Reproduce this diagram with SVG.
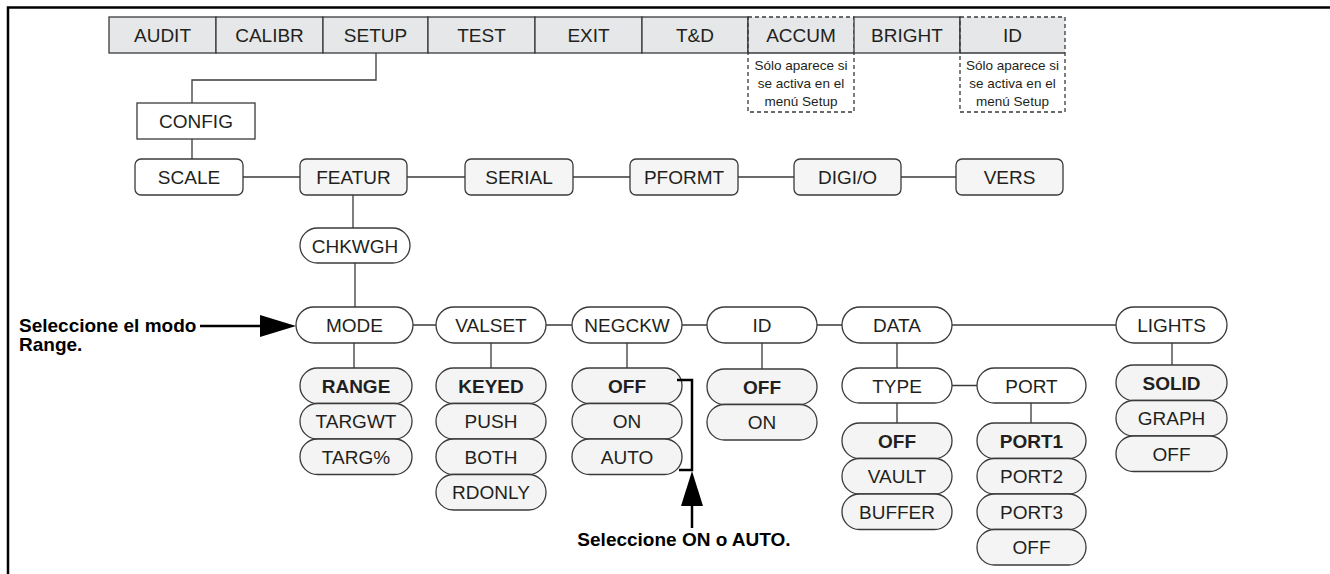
<svg xmlns="http://www.w3.org/2000/svg" width="1330" height="574" viewBox="0 0 1330 574">
<style>
text{font-family:"Liberation Sans",Arial,Helvetica,sans-serif;fill:#231f20;text-anchor:middle}
.t{font-size:19px}
.b{font-weight:bold}
.s{font-size:13.5px}
.ann{font-size:19px;font-weight:bold;fill:#000}
.bar{fill:#e6e7e8;stroke:#3a3a3a;stroke-width:1.3}
.barf{fill:#e6e7e8;stroke:none}
.dash{fill:none;stroke:#3a3a3a;stroke-width:1.3;stroke-dasharray:4 3}
.box{fill:#fff;stroke:#3a3a3a;stroke-width:1.3}
.rb{fill:#f5f5f5;stroke:#3a3a3a;stroke-width:1.3}
.pill{fill:#fff;stroke:#3a3a3a;stroke-width:1.3}
.opt{fill:#f4f4f4;stroke:#3a3a3a;stroke-width:1.3}
.ln{fill:none;stroke:#3a3a3a;stroke-width:1.3}
.thk{fill:none;stroke:#000;stroke-width:2.5}
</style>
<path d="M8,574 V7.5 H1330" fill="none" stroke="#000" stroke-width="2.5"/>

<g id="menu-bar">
<g id="n-audit"><rect class="bar" x="109" y="17" width="107" height="36"/><text class="t" x="162.5" y="42">AUDIT</text></g>
<g id="n-calibr"><rect class="bar" x="216" y="17" width="107" height="36"/><text class="t" x="269.5" y="42">CALIBR</text></g>
<g id="n-setup"><rect class="bar" x="323" y="17" width="105" height="36"/><text class="t" x="375.5" y="42">SETUP</text></g>
<g id="n-test"><rect class="bar" x="428" y="17" width="107" height="36"/><text class="t" x="481.5" y="42">TEST</text></g>
<g id="n-exit"><rect class="bar" x="535" y="17" width="107" height="36"/><text class="t" x="588.5" y="42">EXIT</text></g>
<g id="n-td"><rect class="bar" x="642" y="17" width="106" height="36"/><text class="t" x="695" y="42">T&amp;D</text></g>
<g id="n-accum"><rect class="barf" x="748" y="17" width="106" height="36"/><rect class="dash" x="748" y="17" width="106" height="95"/><line class="ln" x1="748" y1="17" x2="748" y2="53"/><line class="ln" x1="748" y1="53" x2="854" y2="53"/><text class="t" x="801" y="42">ACCUM</text>
<text class="s" x="801" y="70">Sólo aparece si</text><text class="s" x="801" y="88">se activa en el</text><text class="s" x="801" y="106">menú Setup</text></g>
<g id="n-bright"><rect class="bar" x="854" y="17" width="106" height="36"/><text class="t" x="907" y="42">BRIGHT</text></g>
<g id="n-id"><rect class="barf" x="960" y="17" width="105" height="36"/><rect class="dash" x="960" y="17" width="105" height="95"/><line class="ln" x1="960" y1="17" x2="960" y2="53"/><line class="ln" x1="960" y1="53" x2="1065" y2="53"/><text class="t" x="1012.5" y="42">ID</text>
<text class="s" x="1012.5" y="70">Sólo aparece si</text><text class="s" x="1012.5" y="88">se activa en el</text><text class="s" x="1012.5" y="106">menú Setup</text></g>
</g>

<g id="connectors">
<path class="ln" d="M376,53 V80 H192 V103"/>
<path class="ln" d="M192,139 V159"/>
<path class="ln" d="M243,177 H300 M407,177 H465 M573,177 H630 M738,177 H794 M901,177 H956"/>
<path class="ln" d="M353,195 V228"/>
<path class="ln" d="M355,263 V307"/>
<path class="ln" d="M413,325 H436 M546,325 H572 M682,325 H707 M817,325 H842 M952,325 H1116"/>
<path class="ln" d="M354,343 V368 M491,343 V368 M627,343 V368 M762,343 V369 M897,343 V368 M1172,343 V365"/>
<path class="ln" d="M952,385.5 H977 M897,403 V423 M1031,403 V423"/>
</g>

<g id="n-config"><rect class="box" x="137" y="103" width="118" height="36"/><text class="t" x="196" y="128">CONFIG</text></g>

<g id="n-scale"><rect class="box" x="135" y="159" width="108" height="36" rx="6"/><text class="t" x="189" y="184">SCALE</text></g>
<g id="n-featur"><rect class="rb" x="300" y="159" width="107" height="36" rx="6"/><text class="t" x="353.5" y="184">FEATUR</text></g>
<g id="n-serial"><rect class="rb" x="465" y="159" width="108" height="36" rx="6"/><text class="t" x="519" y="184">SERIAL</text></g>
<g id="n-pformt"><rect class="rb" x="630" y="159" width="108" height="36" rx="6"/><text class="t" x="684" y="184">PFORMT</text></g>
<g id="n-digio"><rect class="rb" x="794" y="159" width="107" height="36" rx="6"/><text class="t" x="847.5" y="184">DIGI/O</text></g>
<g id="n-vers"><rect class="rb" x="956" y="159" width="107" height="36" rx="6"/><text class="t" x="1009.5" y="184">VERS</text></g>

<g id="n-chkwgh"><rect class="pill" x="300" y="228" width="110" height="35" rx="17.5"/><text class="t" x="355" y="252.5">CHKWGH</text></g>

<g id="n-mode"><rect class="pill" x="296" y="307" width="117" height="36" rx="18"/><text class="t" x="354.5" y="332">MODE</text></g>
<g id="n-valset"><rect class="pill" x="436" y="307" width="110" height="36" rx="18"/><text class="t" x="491" y="332">VALSET</text></g>
<g id="n-negckw"><rect class="pill" x="572" y="307" width="110" height="36" rx="18"/><text class="t" x="627" y="332">NEGCKW</text></g>
<g id="n-id2"><rect class="pill" x="707" y="307" width="110" height="36" rx="18"/><text class="t" x="762" y="332">ID</text></g>
<g id="n-data"><rect class="pill" x="842" y="307" width="110" height="36" rx="18"/><text class="t" x="897" y="332">DATA</text></g>
<g id="n-lights"><rect class="pill" x="1116" y="307" width="111" height="36" rx="18"/><text class="t" x="1171.5" y="332">LIGHTS</text></g>

<g id="n-type"><rect class="pill" x="842" y="368" width="110" height="35" rx="17.5"/><text class="t" x="897" y="392.5">TYPE</text></g>
<g id="n-port"><rect class="pill" x="977" y="368" width="109" height="35" rx="17.5"/><text class="t" x="1031.5" y="392.5">PORT</text></g>

<g id="mode-options">
<rect class="opt" x="300" y="368" width="112" height="35.5" rx="17.5"/><text class="t b" x="356" y="392.5">RANGE</text>
<rect class="opt" x="300" y="403.5" width="112" height="35.5" rx="17.5"/><text class="t" x="356" y="428">TARGWT</text>
<rect class="opt" x="300" y="439" width="112" height="35.5" rx="17.5"/><text class="t" x="356" y="463.5">TARG%</text>
</g>
<g id="valset-options">
<rect class="opt" x="436" y="368" width="110" height="35.5" rx="17.5"/><text class="t b" x="491" y="392.5">KEYED</text>
<rect class="opt" x="436" y="403.5" width="110" height="35.5" rx="17.5"/><text class="t" x="491" y="428">PUSH</text>
<rect class="opt" x="436" y="439" width="110" height="35.5" rx="17.5"/><text class="t" x="491" y="463.5">BOTH</text>
<rect class="opt" x="436" y="474.5" width="110" height="35.5" rx="17.5"/><text class="t" x="491" y="499">RDONLY</text>
</g>
<g id="negckw-options">
<rect class="opt" x="572" y="368" width="110" height="35.5" rx="17.5"/><text class="t b" x="627" y="392.5">OFF</text>
<rect class="opt" x="572" y="403.5" width="110" height="35.5" rx="17.5"/><text class="t" x="627" y="428">ON</text>
<rect class="opt" x="572" y="439" width="110" height="35.5" rx="17.5"/><text class="t" x="627" y="463.5">AUTO</text>
</g>
<g id="id-options">
<rect class="opt" x="707" y="369" width="110" height="35.5" rx="17.5"/><text class="t b" x="762" y="393.5">OFF</text>
<rect class="opt" x="707" y="404.5" width="110" height="35.5" rx="17.5"/><text class="t" x="762" y="429">ON</text>
</g>
<g id="type-options">
<rect class="opt" x="842" y="423" width="110" height="35.5" rx="17.5"/><text class="t b" x="897" y="447.5">OFF</text>
<rect class="opt" x="842" y="458.5" width="110" height="35.5" rx="17.5"/><text class="t" x="897" y="483">VAULT</text>
<rect class="opt" x="842" y="494" width="110" height="35.5" rx="17.5"/><text class="t" x="897" y="518.5">BUFFER</text>
</g>
<g id="port-options">
<rect class="opt" x="977" y="423" width="109" height="35.5" rx="17.5"/><text class="t b" x="1031.5" y="447.5">PORT1</text>
<rect class="opt" x="977" y="458.5" width="109" height="35.5" rx="17.5"/><text class="t" x="1031.5" y="483">PORT2</text>
<rect class="opt" x="977" y="494" width="109" height="35.5" rx="17.5"/><text class="t" x="1031.5" y="518.5">PORT3</text>
<rect class="opt" x="977" y="529.5" width="109" height="35.5" rx="17.5"/><text class="t" x="1031.5" y="554">OFF</text>
</g>
<g id="lights-options">
<rect class="opt" x="1116" y="365" width="111" height="35.5" rx="17.5"/><text class="t b" x="1171.5" y="389.5">SOLID</text>
<rect class="opt" x="1116" y="400.5" width="111" height="35.5" rx="17.5"/><text class="t" x="1171.5" y="425">GRAPH</text>
<rect class="opt" x="1116" y="436" width="111" height="35.5" rx="17.5"/><text class="t" x="1171.5" y="460.5">OFF</text>
</g>

<g id="annotation-mode">
<text class="ann" x="19" y="332" style="text-anchor:start">Seleccione el modo</text>
<text class="ann" x="19" y="351" style="text-anchor:start">Range.</text>
<line class="thk" x1="200" y1="326" x2="262" y2="326"/>
<polygon points="296,326 260,315 260,337" fill="#000"/>
</g>
<g id="annotation-negckw">
<polyline class="thk" points="677,380 692,380 692,470 679,470"/>
<line class="thk" x1="692" y1="528" x2="692" y2="504"/>
<polygon points="692,471 681,506 703,506" fill="#000"/>
<text class="ann" x="684" y="546">Seleccione ON o AUTO.</text>
</g>
</svg>
